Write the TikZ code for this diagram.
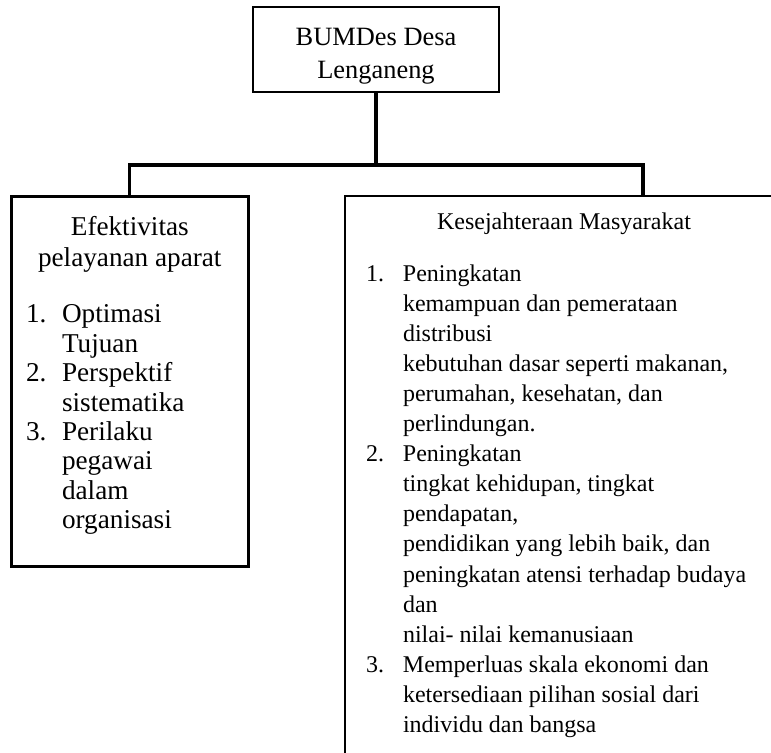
\documentclass[tikz,border=0pt]{standalone}
\usepackage{fontspec}
\setmainfont{Liberation Serif}
\usepackage{array}
\usetikzlibrary{positioning,calc}

\begin{document}
\begin{tikzpicture}[x=0.5pt, y=-0.5pt,
        block/.style={rectangle, draw, line width=1.3pt, inner sep=0pt, align=center},
        conn/.style={line width=1.6pt}
    ]
        \useasboundingbox (0,0) rectangle (771,753);
        \clip (0,0) rectangle (771,753);

        % Top block
        \node[block, minimum width=123pt, minimum height=42.5pt,
              font=\fontsize{13.2}{16.5}\selectfont] (bumdes) at (376,49.5) {\rule{0pt}{15pt}BUMDes Desa\\Lenganeng};

        % Left block
        \node[block, anchor=north west, minimum width=118.5pt, minimum height=185pt,
              font=\fontsize{13.6}{14.7}\selectfont] (efek) at (10,195) {%
            \begin{tabular}{@{}p{18pt}@{}p{78.5pt}@{}}
                \multicolumn{2}{c}{Efektivitas}\\[0.8pt]
                \multicolumn{2}{c}{pelayanan aparat}\\[13.3pt]
                1. & Optimasi\\
                   & Tujuan\\
                2. & Perspektif\\
                   & sistematika\\
                3. & Perilaku\\
                   & pegawai\\
                   & dalam\\
                   & organisasi\\[4.9pt]
            \end{tabular}};

        % Right block (runs past the page edge)
        \node[block, line width=1pt, anchor=north west, minimum width=219pt,
              font=\fontsize{12}{15}\selectfont] (kes) at (344,195) {%
            \begin{tabular}{@{}p{18.5pt}@{}p{179.5pt}@{}}
                \multicolumn{2}{c}{\rule{0pt}{17pt}Kesejahteraan Masyarakat}\\[11pt]
                1. & Peningkatan\\
                   & kemampuan dan pemerataan\\
                   & distribusi\\
                   & kebutuhan dasar seperti makanan,\\
                   & perumahan, kesehatan, dan\\
                   & perlindungan.\\
                2. & Peningkatan\\
                   & tingkat kehidupan, tingkat\\
                   & pendapatan,\\
                   & pendidikan yang lebih baik, dan\\
                   & peningkatan atensi terhadap budaya\\
                   & dan\\
                   & nilai- nilai kemanusiaan\\
                3. & Memperluas skala ekonomi dan\\
                   & ketersediaan pilihan sosial dari\\
                   & individu dan bangsa\\[40pt]
            \end{tabular}};

        % Connectors
        \coordinate (bus) at (0,165);
        \coordinate (kesin) at (643,195);
        \draw[conn] (bumdes.south) -- (bumdes.south |- bus);
        \draw[conn] (efek.north) |- (kesin |- bus) -- (kesin);

    \end{tikzpicture}
\end{document}
